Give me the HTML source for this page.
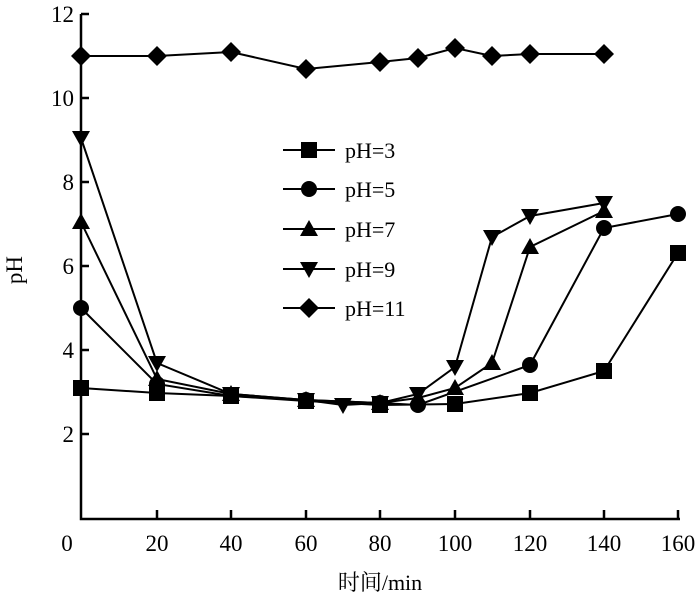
<!DOCTYPE html><html><head><meta charset="utf-8"><style>body{margin:0;background:#fff}svg{display:block}text{font-family:"Liberation Serif","Noto Serif CJK SC",serif;fill:#000}</style></head><body>
<svg width="700" height="601" viewBox="0 0 700 601" xmlns="http://www.w3.org/2000/svg">
<defs>
<rect id="sq" x="-8" y="-8" width="16" height="16"/>
<circle id="ci" r="8"/>
<polygon id="tu" points="0,-9 9,7 -9,7"/>
<polygon id="td" points="0,9 9,-7 -9,-7"/>
<polygon id="di" points="0,-10 10,0 0,10 -10,0"/>
</defs>
<g stroke="#000" stroke-width="2.5" fill="none">
<path d="M81,14 V519 H680"/>
<path d="M81,14h8M81,98h8M81,182h8M81,266h8M81,350h8M81,434h8"/>
<path d="M157,519v-9M231,519v-9M306,519v-9M380,519v-9M455,519v-9M530,519v-9M604,519v-9M678,519v-9"/>
</g>
<g font-size="23" text-anchor="end">
<text x="74" y="22">12</text><text x="74" y="106">10</text><text x="74" y="190">8</text><text x="74" y="274">6</text><text x="74" y="358">4</text><text x="74" y="442">2</text>
</g>
<g font-size="23" text-anchor="middle">
<text x="67" y="551">0</text><text x="157" y="551">20</text><text x="231" y="551">40</text><text x="306" y="551">60</text><text x="380" y="551">80</text><text x="455" y="551">100</text><text x="530" y="551">120</text><text x="604" y="551">140</text><text x="678" y="551">160</text>
<text x="380" y="590" font-size="22">时间/min</text>
<text transform="translate(22,270) rotate(-90)" font-size="23">pH</text>
</g>
<g stroke="#000" stroke-width="2" fill="none">
<polyline points="81,388 157,393 231,396 306,401 380,405 455,404 530,393 604,371 678,253"/>
<polyline points="81,308 157,384 231,396 306,400 380,403 418,405 530,365 604,228 678,214"/>
<polyline points="81,222 157,379 231,394 306,400 380,403 418,398 455,388 492,363 530,247 604,211"/>
<polyline points="81,138 157,363 231,394 306,400 343,405 380,403 418,394 455,367 492,237 530,216 604,203"/>
<polyline points="81,56 157,56 231,52 306,69 380,62 418,58 455,48 492,56 530,54 604,54"/>
</g>
<g fill="#000">
<g><use href="#sq" x="81" y="388"/><use href="#sq" x="157" y="393"/><use href="#sq" x="231" y="396"/><use href="#sq" x="306" y="401"/><use href="#sq" x="380" y="405"/><use href="#sq" x="455" y="404"/><use href="#sq" x="530" y="393"/><use href="#sq" x="604" y="371"/><use href="#sq" x="678" y="253"/></g>
<g><use href="#ci" x="81" y="308"/><use href="#ci" x="157" y="384"/><use href="#ci" x="231" y="396"/><use href="#ci" x="306" y="400"/><use href="#ci" x="380" y="403"/><use href="#ci" x="418" y="405"/><use href="#ci" x="530" y="365"/><use href="#ci" x="604" y="228"/><use href="#ci" x="678" y="214"/></g>
<g><use href="#tu" x="81" y="222"/><use href="#tu" x="157" y="379"/><use href="#tu" x="231" y="394"/><use href="#tu" x="306" y="400"/><use href="#tu" x="380" y="403"/><use href="#tu" x="418" y="398"/><use href="#tu" x="455" y="388"/><use href="#tu" x="492" y="363"/><use href="#tu" x="530" y="247"/><use href="#tu" x="604" y="211"/></g>
<g><use href="#td" x="81" y="138"/><use href="#td" x="157" y="363"/><use href="#td" x="231" y="394"/><use href="#td" x="306" y="400"/><use href="#td" x="343" y="405"/><use href="#td" x="380" y="403"/><use href="#td" x="418" y="394"/><use href="#td" x="455" y="367"/><use href="#td" x="492" y="237"/><use href="#td" x="530" y="216"/><use href="#td" x="604" y="203"/></g>
<g><use href="#di" x="81" y="56"/><use href="#di" x="157" y="56"/><use href="#di" x="231" y="52"/><use href="#di" x="306" y="69"/><use href="#di" x="380" y="62"/><use href="#di" x="418" y="58"/><use href="#di" x="455" y="48"/><use href="#di" x="492" y="56"/><use href="#di" x="530" y="54"/><use href="#di" x="604" y="54"/></g>
</g>
<g stroke="#000" stroke-width="2"><path d="M283,150h52M283,189h52M283,229h52M283,269h52M283,308h52"/></g>
<g fill="#000"><use href="#sq" x="309" y="150"/><use href="#ci" x="309" y="189"/><use href="#tu" x="309" y="229"/><use href="#td" x="309" y="269"/><use href="#di" x="309" y="308"/></g>
<g font-size="22"><text x="345" y="158">pH=3</text><text x="345" y="197">pH=5</text><text x="345" y="237">pH=7</text><text x="345" y="277">pH=9</text><text x="345" y="316">pH=11</text></g>
</svg></body></html>
